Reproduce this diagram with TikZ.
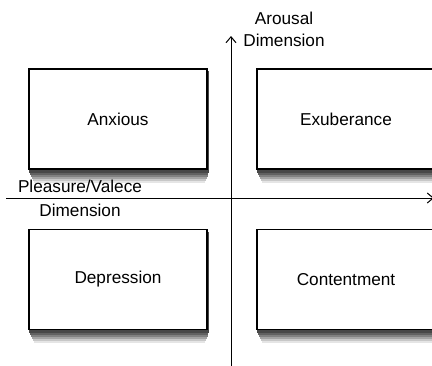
\documentclass[tikz,border=0pt]{standalone}
\usepackage{fontspec}
\setmainfont{Liberation Sans}
\usetikzlibrary{arrows.meta,backgrounds}

\tikzset{
    quadrant/.style={
        draw, fill=white, line width=0.7pt,
        minimum width=89pt, minimum height=50pt
    },
    axis/.style={line width=0.5pt, -{Straight Barb[length=3pt,width=5pt]}},
    axislabel/.style={align=center}
}

\begin{document}
\begin{tikzpicture}[x=0.5pt, y=-0.5pt, font=\fontsize{8.6}{11}\selectfont]
    \useasboundingbox (0,0) rectangle (432,365);
    \clip (0,0) rectangle (432,365);

    % quadrants
    \node [quadrant] (anxious)     at (118,119) {Anxious};
    \node [quadrant] (exuberance)  at (346,119) {Exuberance};
    \node [quadrant] (depression)  at (118,279.5) {Depression};
    \node [quadrant] (contentment) at (346,279.5) {Contentment};

    % soft shadows under the boxes
    \begin{scope}[on background layer]
        \foreach \q in {anxious,exuberance,depression,contentment}
            \foreach \dy/\dx/\c in {6.5/2.6/10,5.5/2.1/22,4.5/1.6/36,3.5/1.1/50,2.5/0.7/62,1.5/0.3/72}
                \fill [black!\c]
                    ([xshift=\dx pt, yshift=-\dy pt]\q.south west)
                    rectangle
                    ([xshift=1pt-\dx pt, yshift=-\dy pt]\q.north east)
                    ;
    \end{scope}

    % axes
    \coordinate (west)  at (6,198);
    \coordinate (east)  at (434,198);
    \coordinate (south) at (231,370);
    \coordinate (north) at (231,36);
    \draw [axis]
        (west) -- (east)
        ;
    \draw [axis]
        (south) -- (north)
        ;

    \node [axislabel] (arousal) at (284,29) {Arousal\\Dimension};
    \node [axislabel] (pleasure) at (80,198.5) {Pleasure/Valece\\[1pt]Dimension};
\end{tikzpicture}
\end{document}
